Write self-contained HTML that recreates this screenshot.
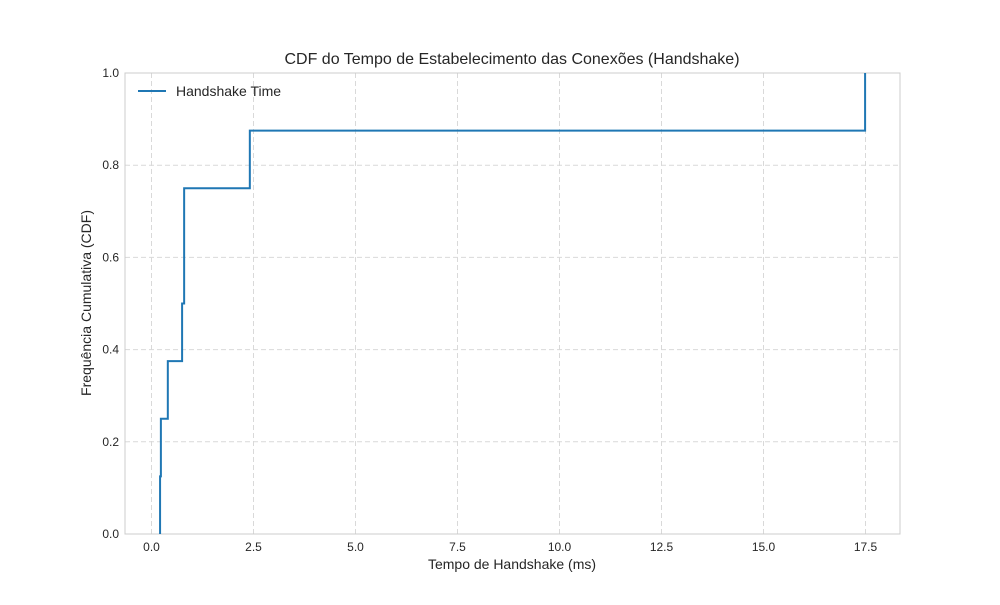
<!DOCTYPE html>
<html><head><meta charset="utf-8"><style>
body{margin:0;background:#fff;font-family:"Liberation Sans",sans-serif;}
text{font-family:"Liberation Sans",sans-serif;fill:#262626;}
</style></head><body>
<svg width="1000" height="600">
<rect width="1000" height="600" fill="#fff"/>
<g id="grid"></g>
<rect x="125" y="73" width="775" height="461" fill="none" stroke="#cccccc" stroke-width="1"/>
<g id="ticks"></g>
<path id="line" fill="none" stroke="#1f77b4" stroke-width="2"/>
<text x="512" y="64" text-anchor="middle" font-size="16">CDF do Tempo de Estabelecimento das Conexões (Handshake)</text>
<text x="512" y="569" text-anchor="middle" font-size="14">Tempo de Handshake (ms)</text>
<text transform="translate(91,303) rotate(-90)" text-anchor="middle" font-size="14">Frequência Cumulativa (CDF)</text>
<g>
<line x1="138" y1="91" x2="166" y2="91" stroke="#1f77b4" stroke-width="2"/>
<text x="176" y="96" font-size="14">Handshake Time</text>
</g>
</svg>
<script>
const xValues=[0.21,0.23,0.40,0.75,0.80,0.80,2.41,17.49];
const cdfValues=[0.125,0.25,0.375,0.5,0.625,0.75,0.875,1.0];
const xTicks=[0,2.5,5,7.5,10,12.5,15,17.5];
const xTickLabels=["0.0","2.5","5.0","7.5","10.0","12.5","15.0","17.5"];
const yTicks=[0,0.2,0.4,0.6,0.8,1.0];
const yTickLabels=["0.0","0.2","0.4","0.6","0.8","1.0"];
const sx=v=>151.5+v*40.8;
const sy=v=>534-v*461;
const NS="http://www.w3.org/2000/svg";
const grid=document.getElementById('grid'),ticks=document.getElementById('ticks');
function mk(tag,attrs,parent){const e=document.createElementNS(NS,tag);for(const k in attrs)e.setAttribute(k,attrs[k]);parent.appendChild(e);return e;}
xTicks.forEach((t,i)=>{
 const l=mk('line',{x1:sx(t),x2:sx(t),y1:73,y2:534,stroke:'#d9d9d9','stroke-dasharray':'5,3'},grid);
 
 
 const tx=mk('text',{x:sx(t),y:551,'text-anchor':'middle','font-size':12},ticks);
 tx.textContent=xTickLabels[i];
 
 
});
yTicks.forEach((t,i)=>{
 const l=mk('line',{x1:125,x2:900,y1:sy(t),y2:sy(t),stroke:'#d9d9d9','stroke-dasharray':'5,3'},grid);
 
 
 const tx=mk('text',{x:119,y:sy(t)+4,'text-anchor':'end','font-size':12},ticks);
 tx.textContent=yTickLabels[i];
 
 
});
let d='M'+sx(xValues[0])+','+sy(0);
for(let i=0;i<xValues.length;i++){
 d+=' V'+sy(cdfValues[i]);
 if(i+1<xValues.length)d+=' H'+sx(xValues[i+1]);
}
document.getElementById('line').setAttribute('d',d);
</script>
</body></html>
